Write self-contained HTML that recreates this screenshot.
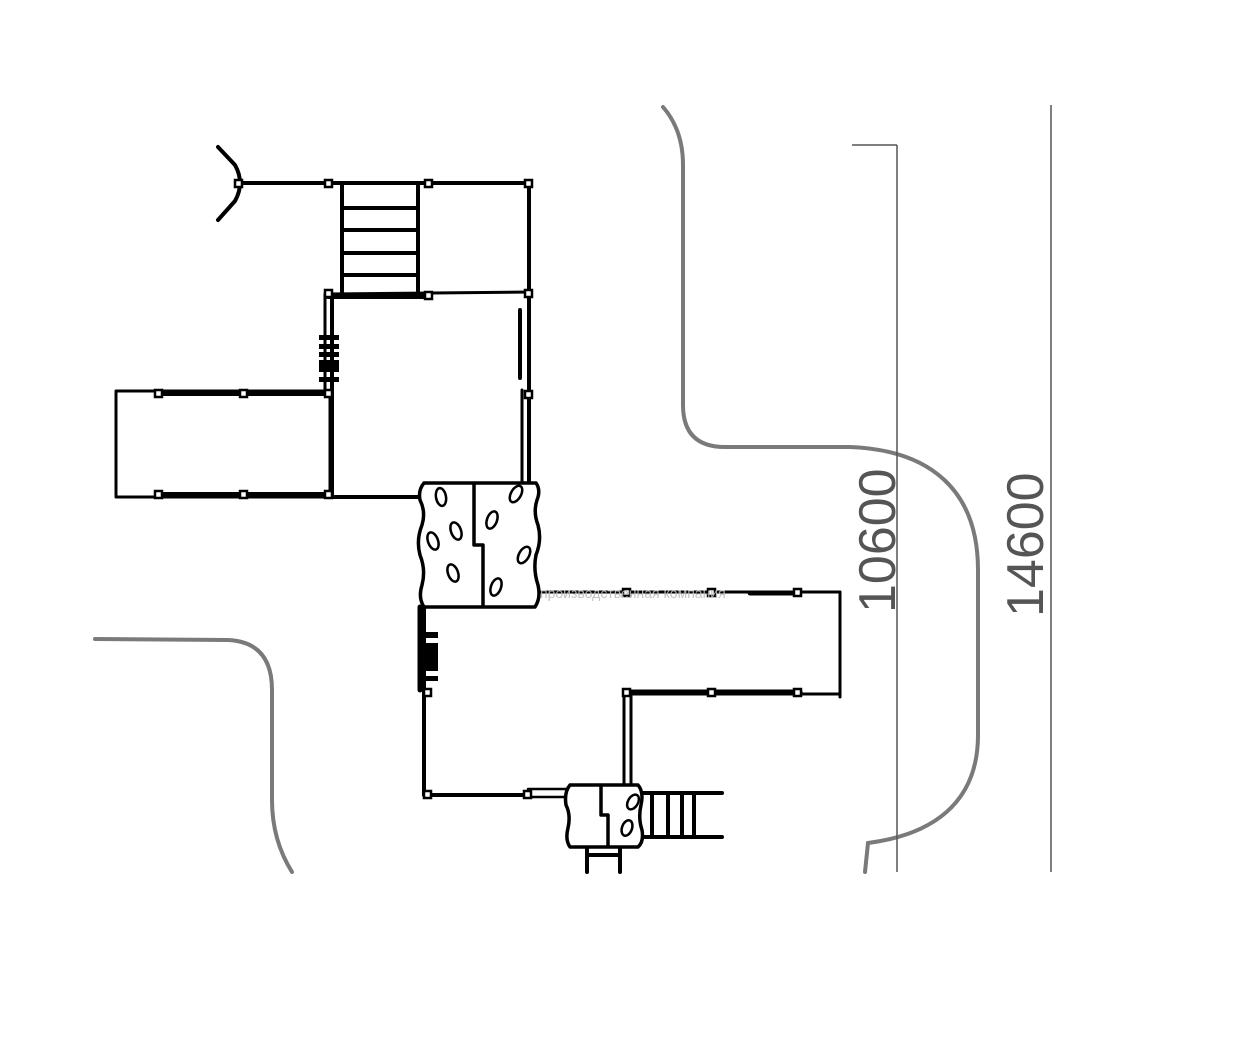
<!DOCTYPE html>
<html><head><meta charset="utf-8"><style>
html,body{margin:0;padding:0;background:#fff;}
svg{display:block;}
</style></head><body>
<svg width="1257" height="1064" viewBox="0 0 1257 1064" xmlns="http://www.w3.org/2000/svg">
<rect width="1257" height="1064" fill="#fff"/>
<g fill="none" stroke="#7a7a7a" stroke-width="4" stroke-linecap="round">
<path d="M663 107 Q683 130 683 165 L683 405 Q683 447 725 447 L850 447 C930 450 978 490 978 570 L978 735 C978 805 930 835 868 843 L865 872"/>
<path d="M95 639 L228 640 Q272 642 272 690 L272 800 Q272 840 292 872"/>
</g>
<g stroke="#555" stroke-width="1.5" fill="none">
<line x1="897" y1="145" x2="897" y2="872"/>
<line x1="852" y1="145" x2="897" y2="145"/>
<line x1="1051" y1="105" x2="1051" y2="872"/>
</g>
<g font-family="Liberation Sans, sans-serif" font-size="52" fill="#555">
<text transform="translate(895,613) rotate(-90)">10600</text>
<text transform="translate(1043,617) rotate(-90)">14600</text>
</g>
<g stroke="#000" stroke-width="4" fill="none" stroke-linecap="round" stroke-linejoin="round">
<path d="M218 147 L235 165 Q240 174 240 183 Q240 192 235 201 L218 220"/>
<line x1="238" y1="183" x2="530" y2="183"/>
<line x1="342" y1="183" x2="342" y2="292"/>
<line x1="418" y1="183" x2="418" y2="292"/>
<line x1="342" y1="208" x2="418" y2="208"/>
<line x1="342" y1="230" x2="418" y2="230"/>
<line x1="342" y1="253" x2="418" y2="253"/>
<line x1="342" y1="275" x2="418" y2="275"/>
<line x1="529" y1="183" x2="529" y2="483"/>
<line x1="522" y1="390" x2="522" y2="483" stroke-width="3"/>
<line x1="520" y1="310" x2="520" y2="378" stroke-width="4"/>
<line x1="328" y1="294" x2="529" y2="292" stroke-width="3"/>
<line x1="328" y1="296" x2="430" y2="296" stroke-width="6"/>
<line x1="325" y1="294" x2="325" y2="392" stroke-width="3"/>
<line x1="332" y1="294" x2="332" y2="497"/>
<rect x="116" y="391" width="214" height="106" stroke-width="3"/>
<line x1="160" y1="393" x2="330" y2="393" stroke-width="6"/>
<line x1="160" y1="495" x2="330" y2="495" stroke-width="6"/>
<line x1="330" y1="497" x2="420" y2="497"/>
<line x1="424" y1="607" x2="424" y2="795"/>
<line x1="420" y1="607" x2="420" y2="690" stroke-width="5"/>
<line x1="424" y1="795" x2="530" y2="795"/>
<line x1="528" y1="789" x2="567" y2="789" stroke-width="2.5"/>
<line x1="528" y1="797" x2="567" y2="797" stroke-width="2.5"/>
<line x1="540" y1="592" x2="840" y2="592" stroke-width="3"/>
<line x1="750" y1="593" x2="798" y2="593" stroke-width="5"/>
<line x1="840" y1="592" x2="840" y2="697" stroke-width="3"/>
<line x1="627" y1="694" x2="840" y2="694" stroke-width="3"/>
<line x1="630" y1="692" x2="800" y2="692" stroke-width="5"/>
<line x1="624" y1="692" x2="624" y2="785" stroke-width="3"/>
<line x1="631" y1="692" x2="631" y2="785" stroke-width="3"/>
<line x1="643" y1="793" x2="722" y2="793"/>
<line x1="643" y1="837" x2="722" y2="837"/>
<line x1="652" y1="793" x2="652" y2="837"/>
<line x1="668" y1="795" x2="668" y2="835"/>
<line x1="682" y1="795" x2="682" y2="835"/>
<line x1="694" y1="795" x2="694" y2="835"/>
<line x1="587" y1="847" x2="587" y2="872"/>
<line x1="620" y1="847" x2="620" y2="872"/>
<line x1="587" y1="855" x2="620" y2="855"/>
</g>
<g fill="#000">
<rect x="319" y="335" width="20" height="5"/>
<rect x="319" y="344" width="20" height="5"/>
<rect x="319" y="352" width="20" height="5"/>
<rect x="319" y="360" width="20" height="12"/>
<rect x="319" y="377" width="20" height="5"/>
<rect x="418" y="632" width="20" height="6"/>
<rect x="418" y="643" width="20" height="28"/>
<rect x="418" y="676" width="20" height="5"/>
</g>
<g stroke="#000" stroke-width="3.5" fill="#fff" stroke-linejoin="round">
<path d="M424 483 L536 483 Q541 490 537 500 Q533 512 538 525 Q542 540 536 555 Q533 570 538 585 Q541 598 535 607 L424 607 Q418 598 422 585 Q426 570 420 555 Q416 540 422 525 Q426 512 420 500 Q418 490 424 483 Z"/>
<path d="M474 483 L474 545 L483 545 L483 607" fill="none"/>
<path d="M570 785 L638 785 Q644 792 641 805 Q638 818 642 830 Q644 842 638 847 L570 847 Q565 840 568 828 Q571 815 566 805 Q564 792 570 785 Z"/>
<path d="M601 785 L601 815 L608 815 L608 847" fill="none"/>
</g>
<g stroke="#000" stroke-width="2.5" fill="#fff">
<ellipse cx="441" cy="497" rx="5" ry="9" transform="rotate(-10 441 497)"/>
<ellipse cx="456" cy="531" rx="5" ry="9" transform="rotate(-20 456 531)"/>
<ellipse cx="433" cy="541" rx="5" ry="9" transform="rotate(-20 433 541)"/>
<ellipse cx="453" cy="573" rx="5" ry="9" transform="rotate(-20 453 573)"/>
<ellipse cx="516" cy="494" rx="5" ry="9" transform="rotate(30 516 494)"/>
<ellipse cx="492" cy="520" rx="5" ry="9" transform="rotate(20 492 520)"/>
<ellipse cx="524" cy="555" rx="5" ry="9" transform="rotate(30 524 555)"/>
<ellipse cx="496" cy="587" rx="5" ry="9" transform="rotate(20 496 587)"/>
<ellipse cx="633" cy="802" rx="5" ry="8" transform="rotate(30 633 802)"/>
<ellipse cx="627" cy="828" rx="5" ry="8" transform="rotate(20 627 828)"/>
</g>
<g fill="#fff" stroke="#000" stroke-width="2.5">
<rect x="235" y="180" width="7" height="7"/>
<rect x="325" y="180" width="7" height="7"/>
<rect x="425" y="180" width="7" height="7"/>
<rect x="525" y="180" width="7" height="7"/>
<rect x="325" y="290" width="7" height="7"/>
<rect x="425" y="292" width="7" height="7"/>
<rect x="525" y="290" width="7" height="7"/>
<rect x="525" y="391" width="7" height="7"/>
<rect x="155" y="390" width="7" height="7"/>
<rect x="240" y="390" width="7" height="7"/>
<rect x="325" y="390" width="7" height="7"/>
<rect x="155" y="491" width="7" height="7"/>
<rect x="240" y="491" width="7" height="7"/>
<rect x="325" y="491" width="7" height="7"/>
<rect x="424" y="689" width="7" height="7"/>
<rect x="424" y="791" width="7" height="7"/>
<rect x="524" y="791" width="7" height="7"/>
<rect x="623" y="589" width="7" height="7"/>
<rect x="708" y="589" width="7" height="7"/>
<rect x="794" y="589" width="7" height="7"/>
<rect x="623" y="689" width="7" height="7"/>
<rect x="708" y="689" width="7" height="7"/>
<rect x="794" y="689" width="7" height="7"/>
</g>
<text x="540" y="598" font-family="Liberation Sans, sans-serif" font-size="14" fill="#bbb" opacity="0.9">производственная компания</text>
</svg>
</body></html>
